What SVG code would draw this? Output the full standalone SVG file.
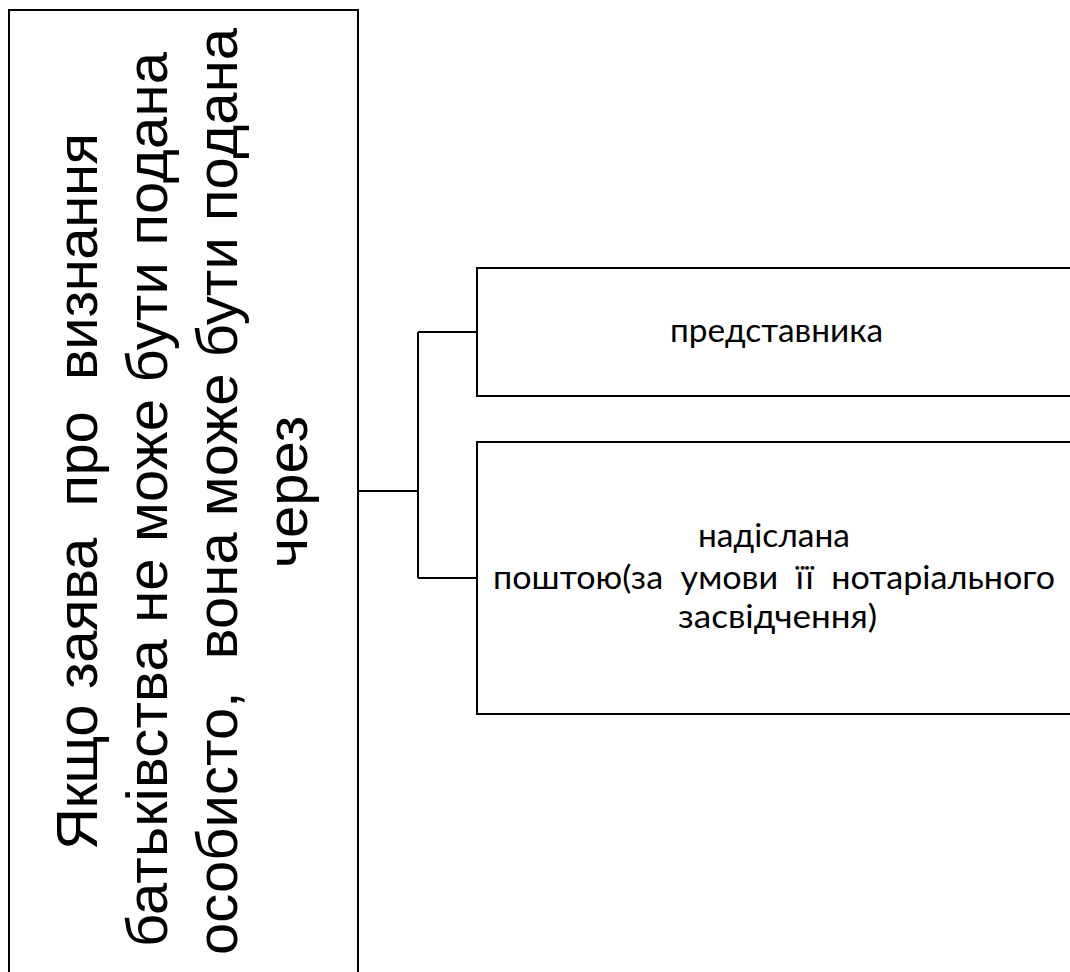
<svg xmlns="http://www.w3.org/2000/svg" width="1070" height="972" viewBox="0 0 1070 972">
<style>
.box{fill:#fff;stroke:#000;stroke-width:2}
.conn{fill:none;stroke:#000;stroke-width:2}
text{white-space:pre}
.big{font-family:"Liberation Sans",Arial,sans-serif;font-size:58px;fill:#000}
.small{font-family:Lato,"Open Sans",sans-serif;font-size:33px;fill:#000}
</style>
<rect width="1070" height="972" fill="#fff"/>
<g id="connectors">
<path class="conn" d="M358,491 H418 M418,332 V578 M418,332 H477 M418,578 H477"/>
</g>
<g id="node-main">
<rect class="box" x="9" y="10" width="349" height="975"/>
<g transform="rotate(-90)" text-anchor="middle">
<text class="big" x="-491.5" y="97" textLength="717" lengthAdjust="spacing">Якщо заява  про  визнання</text>
<text class="big" x="-499.5" y="167" textLength="895" lengthAdjust="spacing">батьківства не може бути подана</text>
<text class="big" x="-491.5" y="237" textLength="927" lengthAdjust="spacing">особисто,  вона може бути подана</text>
<text class="big" x="-492" y="307">через</text>
</g>
</g>
<g id="node-representative">
<rect class="box" x="477" y="268" width="600" height="128"/>
<text class="small" x="776.5" y="342" text-anchor="middle" textLength="213" lengthAdjust="spacingAndGlyphs">представника</text>
</g>
<g id="node-mail">
<rect class="box" x="477" y="442" width="600" height="272"/>
<text class="small" x="774" y="547" text-anchor="middle" textLength="152" lengthAdjust="spacingAndGlyphs">надіслана</text>
<text class="small" x="774" y="589" text-anchor="middle" textLength="562" lengthAdjust="spacingAndGlyphs">поштою(за  умови  її  нотаріального</text>
<text class="small" x="777.5" y="628" text-anchor="middle" textLength="199" lengthAdjust="spacingAndGlyphs">засвідчення)</text>
</g>
</svg>
